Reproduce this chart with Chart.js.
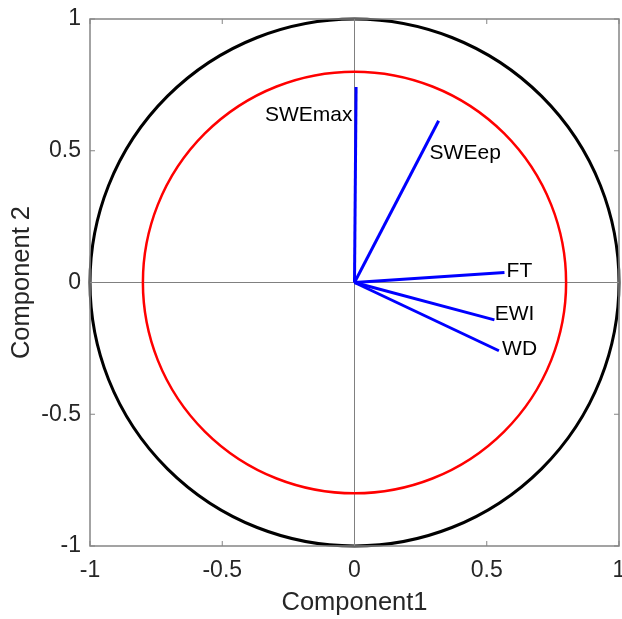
<!DOCTYPE html>
<html>
<head>
<meta charset="utf-8">
<script src="https://cdn.jsdelivr.net/npm/chart.js@4/dist/chart.umd.min.js"></script>
<style>
    html, body { margin: 0; padding: 0; background: #fff; }
    #wrap { width: 622px; height: 619px; }
</style>
</head>
<body>
<div id="wrap"><canvas id="biplot"></canvas></div>
<script>
// loadings
const variables = ['SWEmax', 'SWEep', 'FT', 'EWI', 'WD'];
const loadX = [0.006, 0.318, 0.567, 0.529, 0.546];
const loadY = [0.742, 0.614, 0.038, -0.142, -0.259];

// where each name is written
const labelX = [-0.008, 0.284, 0.575, 0.53, 0.558];
const labelY = [0.636, 0.49, 0.042, -0.119, -0.252];
const labelAlign = ['right', 'left', 'left', 'left', 'left'];

// reference circles
const circleRadii = [1, 0.8];
const circleColors = ['#000000', '#ff0000'];
const circleWidths = [3, 2.5];

const tickValues = [-1, -0.5, 0, 0.5, 1];
const tickLabels = ['-1', '-0.5', '0', '0.5', '1'];

const boxColor = '#858585';
const textColor = '#262626';
const fontFamily = '"Liberation Sans", Arial, sans-serif';

let datasets = variables.map((name, i) => ({
    label: name,
    data: [{x: 0, y: 0}, {x: loadX[i], y: loadY[i]}],
    showLine: true,
    borderColor: '#0000ff',
    borderWidth: 3,
    pointRadius: 0,
    fill: false
}));

const circles = {
    id: 'circles',
    beforeDatasetsDraw(chart) {
        const {ctx, scales: {x, y}} = chart;
        const cx = x.getPixelForValue(0), cy = y.getPixelForValue(0);
        ctx.save();
        circleRadii.forEach((r, i) => {
            const rx = x.getPixelForValue(r) - cx;
            const ry = cy - y.getPixelForValue(r);
            ctx.beginPath();
            ctx.ellipse(cx, cy, rx, ry, 0, 0, Math.PI * 2);
            ctx.strokeStyle = circleColors[i];
            ctx.lineWidth = circleWidths[i];
            ctx.stroke();
        });
        ctx.restore();
    }
};

const frame = {
    id: 'frame',
    afterDraw(chart) {
        const {ctx, chartArea: a, scales: {x, y}} = chart;
        ctx.save();
        ctx.strokeStyle = boxColor;
        ctx.lineWidth = 1.5;
        ctx.strokeRect(a.left, a.top, a.right - a.left, a.bottom - a.top);
        ctx.lineWidth = 1;
        ctx.beginPath();
        tickValues.forEach(v => {
            const px = x.getPixelForValue(v);
            ctx.moveTo(px, a.bottom); ctx.lineTo(px, a.bottom - 5);
            ctx.moveTo(px, a.top); ctx.lineTo(px, a.top + 5);
            const py = y.getPixelForValue(v);
            ctx.moveTo(a.left, py); ctx.lineTo(a.left + 5, py);
            ctx.moveTo(a.right, py); ctx.lineTo(a.right - 5, py);
        });
        ctx.stroke();
        ctx.restore();
    }
};

const names = {
    id: 'names',
    afterDatasetsDraw(chart) {
        const {ctx, scales: {x, y}} = chart;
        ctx.save();
        ctx.font = '21px ' + fontFamily;
        ctx.fillStyle = '#000';
        ctx.textBaseline = 'middle';
        variables.forEach((name, i) => {
            ctx.textAlign = labelAlign[i];
            ctx.fillText(name, x.getPixelForValue(labelX[i]), y.getPixelForValue(labelY[i]));
        });
        ctx.restore();
    }
};

function noPad(scale) {
    scale.paddingLeft = 0;
    scale.paddingRight = 0;
    scale.paddingTop = 0;
    scale.paddingBottom = 0;
}

const zeroLine = c => c.tick && c.tick.value === 0 ? '#808080' : 'rgba(0,0,0,0)';
const tickText = (v, i) => tickLabels[i];

let ctx = document.getElementById('biplot');
let biplot = new Chart(ctx, {
    type: 'scatter',
    data: {datasets: datasets},
    plugins: [circles, names, frame],
    options: {
        responsive: true,
        maintainAspectRatio: false,
        animation: false,
        layout: {padding: {top: 19, right: 3, left: 0, bottom: 0}},
        scales: {
            x: {
                type: 'linear',
                min: -1,
                max: 1,
                afterBuildTicks: s => { s.ticks = tickValues.map(v => ({value: v})); },
                afterFit: s => { s.height = 73; noPad(s); },
                ticks: {
                    padding: 11,
                    color: textColor,
                    callback: tickText,
                    font: {family: fontFamily, size: 23}
                },
                grid: {color: zeroLine, lineWidth: 1, drawTicks: false},
                border: {display: false},
                title: {
                    display: true,
                    text: 'Component1',
                    color: textColor,
                    padding: {top: 0, bottom: 1},
                    font: {family: fontFamily, size: 25.5}
                }
            },
            y: {
                type: 'linear',
                min: -1,
                max: 1,
                afterBuildTicks: s => { s.ticks = tickValues.map(v => ({value: v})); },
                afterFit: s => { s.width = 90; noPad(s); },
                ticks: {
                    padding: 9,
                    color: textColor,
                    callback: tickText,
                    font: {family: fontFamily, size: 23}
                },
                grid: {color: zeroLine, lineWidth: 1, drawTicks: false},
                border: {display: false},
                title: {
                    display: true,
                    text: 'Component 2',
                    color: textColor,
                    padding: {top: 7, bottom: 0},
                    font: {family: fontFamily, size: 25.5}
                }
            }
        },
        plugins: {
            legend: {display: false},
            tooltip: {enabled: false}
        }
    }
});
</script>
</body>
</html>
